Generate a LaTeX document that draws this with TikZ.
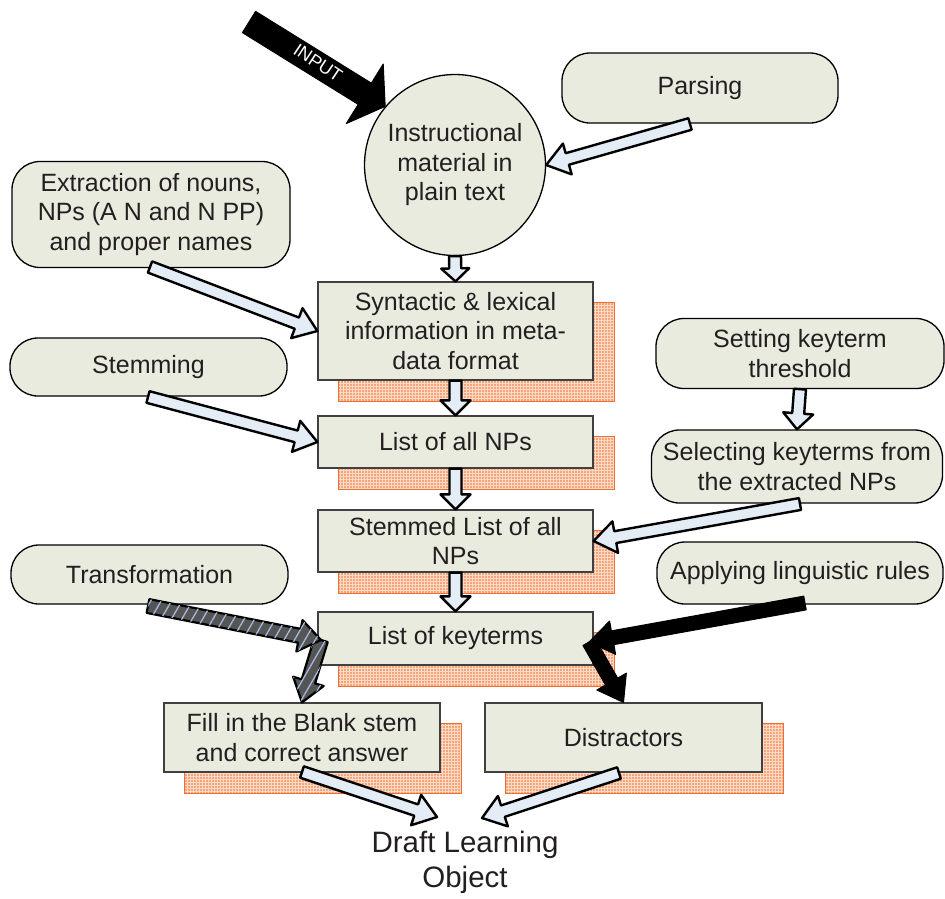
\documentclass[tikz,border=0pt]{standalone}
\usepackage{fontspec}
\setmainfont{Liberation Sans}
\usetikzlibrary{calc,patterns.meta,backgrounds}
\definecolor{boxfill}{RGB}{233,235,223}
\definecolor{arrfill}{RGB}{228,236,245}
\definecolor{shfill}{RGB}{252,218,195}
\definecolor{shdot}{RGB}{240,110,50}
\definecolor{stripe}{RGB}{165,185,220}
\definecolor{darkarr}{RGB}{85,85,85}
\definecolor{ink}{RGB}{35,31,32}
\newcommand\BlkArrow[6]{%
  \coordinate (bah) at ($(#3)!#6!(#2)$);
  \draw[#1] ($(#2)!#4!90:(#3)$) -- ($(bah)!#4!-90:(#2)$) -- ($(bah)!#5!-90:(#2)$) -- (#3)
    -- ($(bah)!#5!90:(#2)$) -- ($(bah)!#4!90:(#2)$) -- ($(#2)!#4!-90:(#3)$) -- cycle;}
\begin{document}
\begin{tikzpicture}[x=1pt,y=-1pt,
  txt/.style={font=\fontsize{25}{29.5}\selectfont, text=ink, align=center, inner sep=0pt},
  rbox/.style={txt, draw=black, line width=1.3pt, fill=boxfill, rounded corners=28pt},
  sbox/.style={txt, draw=black!75, line width=1.2pt, fill=boxfill},
  cbox/.style={txt, circle, draw=black, line width=1.3pt, fill=boxfill},
  shad/.style={draw=shdot, line width=0.8pt, preaction={fill=shfill}, pattern={Dots[distance=3pt,radius=0.8pt]}, pattern color=shdot},
  harr/.style={draw=black, line width=2.4pt, fill=arrfill, line join=round},
  barr/.style={draw=black, line width=1pt, fill=black, line join=round},
  tarr/.style={draw=black, line width=2.2pt, fill=darkarr, line join=round,
     postaction={pattern={Lines[angle=60,distance=9pt,line width=1.3pt]}, pattern color=stripe}},
]
\useasboundingbox (0,0) rectangle (945,898);

% rounded / circle nodes
\node[cbox, minimum size=181pt] (circ) at (455,165) {Instructional\\material in\\plain text};
\node[rbox, minimum width=276pt, minimum height=70pt] (pars) at (700,88) {Parsing};
\node[rbox, minimum width=278pt, minimum height=106pt] (ext) at (151,214.5) {Extraction of nouns,\\NPs (A N and N PP)\\and proper names};
\node[rbox, minimum width=277pt, minimum height=58pt] (stem) at (148.5,367) {Stemming};
\node[rbox, minimum width=288pt, minimum height=70pt] (set) at (800,353.5) {Setting keyterm\\threshold};
\node[rbox, minimum width=291pt, minimum height=73pt] (sel) at (797,466.5) {Selecting keyterms from\\the extracted NPs};
\node[rbox, minimum width=277pt, minimum height=59pt] (trans) at (149.5,574.5) {Transformation};
\node[rbox, minimum width=286pt, minimum height=62pt] (app) at (800,573) {Applying linguistic rules};

% rectangles
\node[sbox, minimum width=275pt, minimum height=98pt] (syn) at (455.5,331) {Syntactic \& lexical\\information in meta-\\data format};
\node[sbox, minimum width=275pt, minimum height=52pt] (nps) at (455.5,442) {List of all NPs};
\node[sbox, minimum width=275pt, minimum height=62pt] (stl) at (455.5,541) {Stemmed List of all\\NPs};
\node[sbox, minimum width=275pt, minimum height=53pt] (kt) at (455.5,638.5) {List of keyterms};
\node[sbox, minimum width=276pt, minimum height=69pt] (fib) at (302,737.5) {Fill in the Blank stem\\and correct answer};
\node[sbox, minimum width=277pt, minimum height=69pt] (dis) at (623.5,737.5) {Distractors};

\node[font=\fontsize{29.5}{35}\selectfont, text=ink, align=center, inner sep=0pt] (draft) at (465,862) {Draft Learning\\Object};

\begin{scope}[on background layer]
  \foreach \n in {syn,nps,stl,kt,fib,dis}
    \draw[shad] ($(\n.north west)+(21,21)$) rectangle ($(\n.south east)+(21,21)$);
\end{scope}

% coordinates for free ends
\coordinate (inT) at (249,22);
\coordinate (parT) at (690,124);
\coordinate (extT) at (150,267);
\coordinate (stemT) at (148,397);
\coordinate (selT) at (800,504);
\coordinate (trT) at (148,606);
\coordinate (trK) at (321,640);
\coordinate (apT) at (805,603);
\coordinate (apK) at (589,642);
\coordinate (fibT) at (302,772);
\coordinate (disT) at (619,773);
\coordinate (dL) at (437,817);
\coordinate (dR) at (482,818);

% INPUT arrow
\BlkArrow{barr}{inT}{circ.140}{12.5pt}{35pt}{24pt}
\node[rotate=-33.7, text=white, font=\fontsize{18}{18}\selectfont, inner sep=0pt] (inlab) at (318,63) {INPUT};

% vertical hollow arrows
\BlkArrow{harr}{circ.south}{syn.north}{6pt}{14pt}{13pt}
\BlkArrow{harr}{syn.south}{nps.north}{6pt}{15pt}{15pt}
\BlkArrow{harr}{nps.south}{stl.north}{6pt}{15pt}{15pt}
\BlkArrow{harr}{stl.south}{kt.north}{6pt}{15pt}{15pt}
\BlkArrow{harr}{set.south}{sel.north}{6pt}{15pt}{16pt}

% diagonal hollow arrows
\BlkArrow{harr}{parT}{circ.east}{6pt}{16pt}{22pt}
\BlkArrow{harr}{extT}{syn.west}{6pt}{16pt}{22pt}
\BlkArrow{harr}{stemT}{nps.west}{6pt}{16pt}{22pt}
\BlkArrow{harr}{selT}{stl.east}{6pt}{16pt}{22pt}
\BlkArrow{harr}{fibT}{dL}{6pt}{16pt}{22pt}
\BlkArrow{harr}{disT}{dR}{6pt}{16pt}{22pt}

% transformation arrows
\BlkArrow{tarr}{trK}{fib.north}{7pt}{16pt}{22pt}
\BlkArrow{tarr}{trT}{trK}{7pt}{16pt}{22pt}

% applying rules arrows
\BlkArrow{barr}{apK}{dis.north}{7pt}{17pt}{24pt}
\BlkArrow{barr}{apT}{apK}{7pt}{17pt}{24pt}
\end{tikzpicture}
\end{document}
